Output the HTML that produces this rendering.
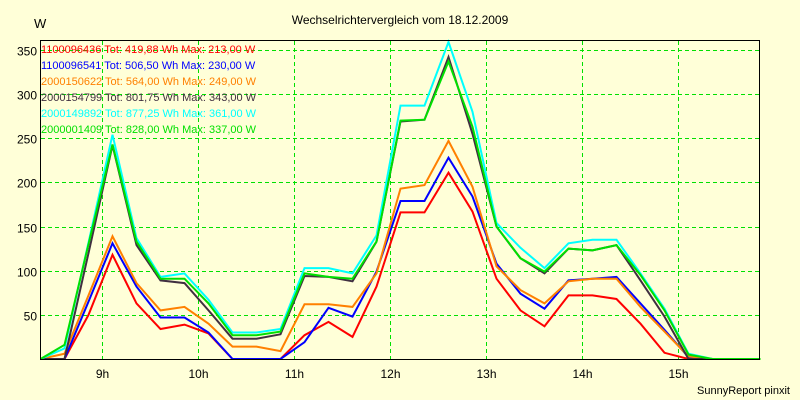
<!DOCTYPE html>
<html><head><meta charset="utf-8"><style>
html,body{margin:0;padding:0;background:#ffffd8;}
svg{display:block;font-family:"Liberation Sans",sans-serif;}
</style></head><body>
<svg id="s" width="800" height="400" xmlns="http://www.w3.org/2000/svg">
<rect width="800" height="400" fill="#ffffd8"/>
<text x="400" y="24" font-size="12" text-anchor="middle">Wechselrichtervergleich vom 18.12.2009</text>
<text x="34" y="28" font-size="13">W</text>
<g id="grid" stroke="#00e000" stroke-width="1" stroke-dasharray="4,3"></g>
<g id="lab" font-size="12" text-anchor="end"></g>
<g id="xlab" font-size="12" text-anchor="middle"></g>
<g id="series" fill="none" stroke-width="2" stroke-linejoin="miter"></g>
<rect x="40.5" y="40.5" width="719" height="319" fill="none" stroke="#000" stroke-width="1"/>
<g font-size="11">
<text x="41" y="53" fill="#ff0000">1100096436 Tot: 419,88 Wh Max: 213,00 W</text>
<text x="41" y="69" fill="#0000ff">1100096541 Tot: 506,50 Wh Max: 230,00 W</text>
<text x="41" y="85" fill="#ff8000">2000150622 Tot: 564,00 Wh Max: 249,00 W</text>
<text x="41" y="101" fill="#403040">2000154799 Tot: 801,75 Wh Max: 343,00 W</text>
<text x="41" y="117" fill="#00ffff">2000149892 Tot: 877,25 Wh Max: 361,00 W</text>
<text x="41" y="133" fill="#00e000">2000001409 Tot: 828,00 Wh Max: 337,00 W</text>
</g>
<text x="790" y="394" font-size="11" text-anchor="end">SunnyReport pinxit</text>
</svg>
<script>
var NS="http://www.w3.org/2000/svg";
function el(p,t,a,txt){var e=document.createElementNS(NS,t);for(var k in a)e.setAttribute(k,a[k]);if(txt)e.textContent=txt;document.getElementById(p).appendChild(e);}
function Y(v){return 359-v*0.8829;}
for(var v=50;v<=350;v+=50){var y=Math.round(Y(v))+0.5;el("grid","line",{x1:41,x2:759,y1:y,y2:y});el("lab","text",{x:37,y:y+5},String(v));}
var hs=["9h","10h","11h","12h","13h","14h","15h"];
for(var i=0;i<7;i++){var x=102.5+96*i;el("grid","line",{x1:x,x2:x,y1:41,y2:359});el("xlab","text",{x:x,y:378},hs[i]);}
var D=[
["#ff0000",[0,0,50,118,63,34,39,29,0,0,0,27,42,25,82,166,166,211,167,91,55,37,72,72,68,40,7,0,0,0,0]],
["#0000ff",[0,0,65,131,82,47,47,30,0,0,0,19,58,48,99,179,179,228,184,108,74,57,89,91,93,63,33,2,0,0,0]],
["#ff8000",[0,6,72,139,86,55,59,40,14,14,9,62,62,59,97,193,197,247,195,105,78,63,88,91,91,59,31,3,0,0,0]],
["#403040",[0,0,120,242,129,89,86,55,23,23,28,94,93,88,133,269,271,342,255,150,114,97,125,123,129,89,48,0,0,0,0]],
["#00ffff",[0,12,132,254,137,93,97,67,30,30,34,103,103,97,140,287,287,359,280,154,126,103,131,135,135,97,57,6,0,0,0]],
["#00e000",[0,16,130,243,133,91,91,63,27,27,31,97,93,91,133,270,271,337,263,150,114,99,125,123,129,95,55,5,0,0,0]]];
D.forEach(function(s){var p=s[1].map(function(v,i){return (40.5+24*i)+","+Y(v).toFixed(1);}).join(" ");el("series","polyline",{points:p,stroke:s[0]});});
</script>
</body></html>
